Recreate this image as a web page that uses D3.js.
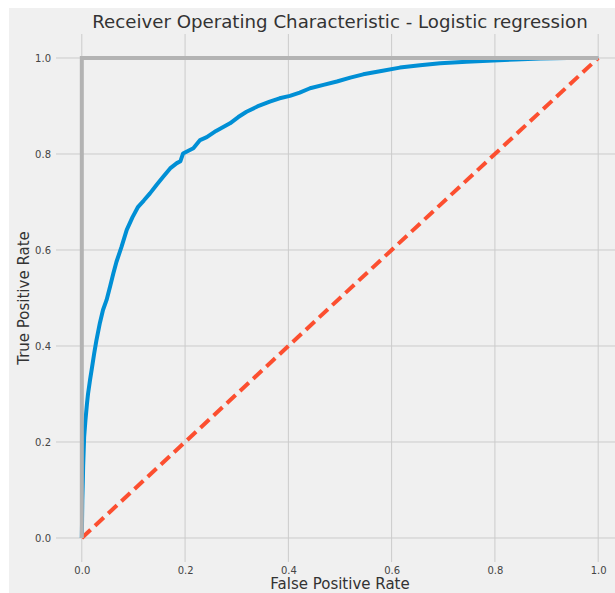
<!DOCTYPE html>
<html>
<head>
<meta charset="utf-8">
<script src="https://cdn.jsdelivr.net/npm/d3@7"></script>
<style>
  html, body { margin: 0; padding: 0; background: #ffffff; }
  svg { display: block; font-family: "DejaVu Sans", sans-serif; }
</style>
</head>
<body>
<script>
// ROC curve of the logistic regression model (false positive rate, true positive rate)
const fpr = [0, 0.0005, 0.001, 0.002, 0.0026, 0.0045, 0.007, 0.010, 0.012, 0.016,
  0.020, 0.024, 0.028, 0.035, 0.041, 0.048, 0.055, 0.061, 0.067, 0.077,
  0.087, 0.098, 0.109, 0.120, 0.132, 0.145, 0.158, 0.171, 0.184, 0.191,
  0.196, 0.216, 0.229, 0.242, 0.260, 0.287, 0.303, 0.319, 0.340, 0.364,
  0.383, 0.403, 0.422, 0.442, 0.468, 0.494, 0.520, 0.545, 0.580, 0.616,
  0.655, 0.694, 0.745, 0.797, 0.840, 0.888, 0.940, 1.0];
const tpr = [0, 0.04, 0.08, 0.12, 0.15, 0.21, 0.245, 0.28, 0.30, 0.33,
  0.357, 0.385, 0.41, 0.448, 0.475, 0.496, 0.525, 0.551, 0.575, 0.607,
  0.642, 0.668, 0.69, 0.703, 0.718, 0.736, 0.753, 0.77, 0.781, 0.785,
  0.801, 0.812, 0.829, 0.835, 0.848, 0.864, 0.877, 0.888, 0.899, 0.909,
  0.916, 0.921, 0.928, 0.937, 0.944, 0.951, 0.959, 0.966, 0.973, 0.980,
  0.985, 0.989, 0.992, 0.995, 0.997, 0.999, 1.0, 1.0];

// Reference lines: chance diagonal and the perfect classifier
const chanceX = [0, 1];
const chanceY = [0, 1];
const perfectX = [0, 0, 1];
const perfectY = [0, 1, 1];

const tickValues = [0.0, 0.2, 0.4, 0.6, 0.8, 1.0];

const title = "Receiver Operating Characteristic - Logistic regression";
const xLabel = "False Positive Rate";
const yLabel = "True Positive Rate";

const W = 615, H = 593;
const plotLeft = 56, plotRight = 624, plotTop = 34, plotBottom = 562;

const svg = d3.select("body").append("svg").attr("width", W).attr("height", H);

// figure background
svg.append("rect").attr("x", 9).attr("y", 8).attr("width", W - 9).attr("height", H - 8)
  .attr("fill", "#f0f0f0");

const x = d3.scaleLinear().domain([-0.05, 1.05]).range([plotLeft, plotRight]);
const y = d3.scaleLinear().domain([-0.05, 1.05]).range([plotBottom, plotTop]);

svg.append("defs").append("clipPath").attr("id", "plot-clip")
  .append("rect").attr("x", plotLeft).attr("y", plotTop)
  .attr("width", plotRight - plotLeft).attr("height", plotBottom - plotTop);

// grid
const grid = svg.append("g");
grid.selectAll("line.v").data(tickValues).join("line").attr("class", "v")
  .attr("x1", d => x(d)).attr("x2", d => x(d))
  .attr("y1", plotTop).attr("y2", plotBottom)
  .attr("stroke", "#cbcbcb").attr("stroke-width", 1);
grid.selectAll("line.h").data(tickValues).join("line").attr("class", "h")
  .attr("y1", d => y(d)).attr("y2", d => y(d))
  .attr("x1", plotLeft).attr("x2", plotRight)
  .attr("stroke", "#cbcbcb").attr("stroke-width", 1);

// axes (tick labels only, no tick marks or spines)
const xAxis = svg.append("g").attr("transform", `translate(0,${plotBottom})`)
  .call(d3.axisBottom(x).tickValues(tickValues).tickFormat(d3.format(".1f")).tickSize(0).tickPadding(5));
const yAxis = svg.append("g").attr("transform", `translate(${plotLeft},0)`)
  .call(d3.axisLeft(y).tickValues(tickValues).tickFormat(d3.format(".1f")).tickSize(0).tickPadding(5));
[xAxis, yAxis].forEach(a => {
  a.select(".domain").remove();
  a.selectAll("text").attr("font-size", 10).attr("fill", "#444")
    .attr("font-family", "DejaVu Sans, sans-serif");
});

const plot = svg.append("g").attr("clip-path", "url(#plot-clip)");
const line = d3.line().x(d => x(d[0])).y(d => y(d[1]));

// ROC curve
plot.append("path").datum(d3.zip(fpr, tpr)).attr("d", line)
  .attr("fill", "none").attr("stroke", "#008fd5").attr("stroke-width", 4)
  .attr("stroke-linejoin", "round").attr("stroke-linecap", "butt");

// chance diagonal
plot.append("path").datum(d3.zip(chanceX, chanceY)).attr("d", line)
  .attr("fill", "none").attr("stroke", "#fc4f30").attr("stroke-width", 4)
  .attr("stroke-dasharray", "12,6");

// perfect classifier
plot.append("path").datum(d3.zip(perfectX, perfectY)).attr("d", line)
  .attr("fill", "none").attr("stroke", "#b3b3b3").attr("stroke-width", 4)
  .attr("stroke-linejoin", "miter");

// title and axis labels
svg.append("text").attr("x", (plotLeft + plotRight) / 2).attr("y", 28)
  .attr("text-anchor", "middle").attr("font-size", 18.2).attr("fill", "#333")
  .text(title);
svg.append("text").attr("x", (plotLeft + plotRight) / 2).attr("y", 589)
  .attr("text-anchor", "middle").attr("font-size", 15).attr("fill", "#333")
  .text(xLabel);
svg.append("text").attr("transform", `translate(29,${(plotTop + plotBottom) / 2}) rotate(-90)`)
  .attr("text-anchor", "middle").attr("font-size", 15).attr("fill", "#333")
  .text(yLabel);
</script>
</body>
</html>
